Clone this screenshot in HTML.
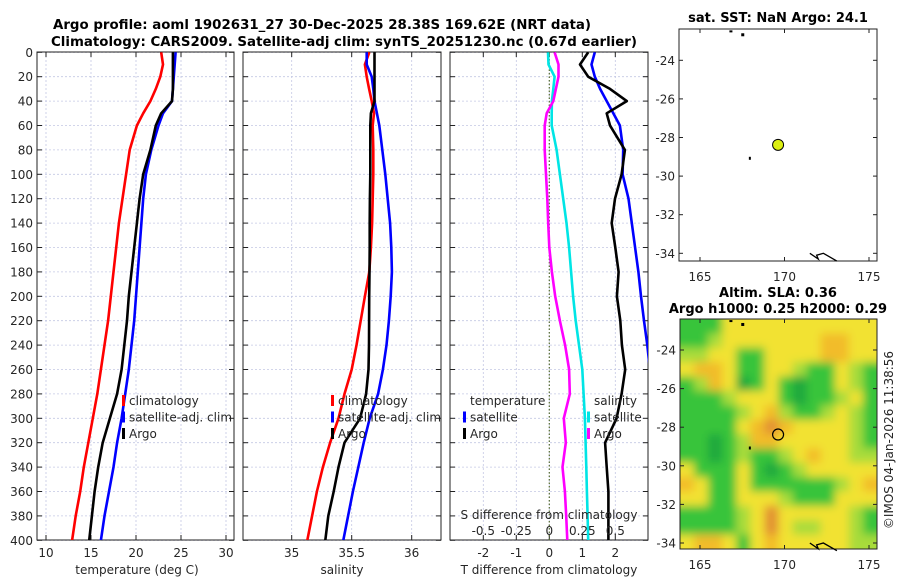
<!DOCTYPE html>
<html><head><meta charset="utf-8"><style>
html,body{margin:0;padding:0;background:#fff;}
svg{display:block;font-family:"DejaVu Sans","Liberation Sans",sans-serif;}
.t{font-size:12px;fill:#262626;}
.b{font-weight:bold;font-size:13px;fill:#000;}
</style></head><body>
<svg id="fig" width="900" height="580" viewBox="0 0 900 580" xmlns="http://www.w3.org/2000/svg">
<defs>
<clipPath id="c1"><rect x="37" y="52" width="197" height="488"/></clipPath>
<clipPath id="c2"><rect x="243" y="52" width="198" height="488"/></clipPath>
<clipPath id="c3"><rect x="450" y="52" width="198" height="488"/></clipPath>
<clipPath id="cm2"><rect x="680" y="319" width="197" height="230"/></clipPath>
<filter id="blur" x="0" y="0" width="1" height="1"><feGaussianBlur stdDeviation="4.5"/></filter>
</defs>
<text class="b" x="322" y="29" text-anchor="middle" textLength="538" lengthAdjust="spacingAndGlyphs">Argo profile: aoml 1902631_27 30-Dec-2025 28.38S 169.62E (NRT data)</text>
<text class="b" x="344" y="46" text-anchor="middle" textLength="586" lengthAdjust="spacingAndGlyphs">Climatology: CARS2009. Satellite-adj clim: synTS_20251230.nc (0.67d earlier)</text>
<g id="g1"></g>
<g id="g2"></g>
<g id="g3"></g>
<g id="gm1"></g>
<g id="gm2"></g>
<text class="t" transform="translate(893,440) rotate(-90)" text-anchor="middle">©IMOS 04-Jan-2026 11:38:56</text>
</svg>
<script>
// ---- data ----
const depths = [0,10,20,30,40,50,60,80,100,120,140,160,180,200,220,240,260,280,300,320,340,360,380,400];
const depthTicks = [0,20,40,60,80,100,120,140,160,180,200,220,240,260,280,300,320,340,360,380,400];
const tempClim = [22.8,23.0,22.7,22.2,21.6,20.8,20.1,19.3,18.9,18.5,18.1,17.8,17.5,17.2,16.9,16.5,16.1,15.7,15.2,14.7,14.2,13.8,13.3,12.9];
const tempSat  = [24.4,24.3,24.2,24.1,24.0,23.0,22.5,21.7,21.1,20.8,20.6,20.4,20.2,20.0,19.8,19.5,19.2,18.8,18.4,17.9,17.5,17.0,16.5,16.1];
const tempArgo = [24.1,24.1,24.1,24.1,24.0,22.8,22.2,21.6,20.8,20.4,20.1,19.8,19.5,19.2,19.0,18.7,18.4,17.9,17.1,16.3,15.8,15.4,15.1,14.8];
const salClim = [35.647,35.61,35.625,35.645,35.667,35.686,35.675,35.68,35.68,35.675,35.67,35.66,35.647,35.61,35.575,35.54,35.5,35.44,35.39,35.32,35.26,35.21,35.17,35.13];
const salSat  = [35.625,35.625,35.667,35.68,35.69,35.71,35.73,35.755,35.78,35.80,35.82,35.83,35.835,35.825,35.81,35.79,35.76,35.72,35.65,35.60,35.555,35.51,35.47,35.43];
const salArgo = [35.69,35.69,35.69,35.69,35.69,35.66,35.655,35.655,35.655,35.652,35.65,35.65,35.648,35.646,35.645,35.644,35.64,35.62,35.57,35.44,35.39,35.35,35.305,35.28];
const tDiffSat  = [1.38,1.28,1.38,1.54,1.74,1.94,2.14,2.24,2.22,2.4,2.5,2.6,2.7,2.78,2.87,2.97,3.05,3.1,3.2,3.2,3.3,3.2,3.2,3.2];
const tDiffArgo = [1.18,0.93,1.18,1.84,2.35,1.74,1.84,2.29,2.19,1.99,1.89,2.0,2.1,2.05,2.15,2.2,2.3,2.19,2.04,1.69,1.74,1.79,1.79,1.79];
const sDiffSat  = [-0.01,-0.006,0.04,0.03,0.02,0.018,0.018,0.055,0.08,0.105,0.13,0.15,0.165,0.18,0.2,0.225,0.25,0.26,0.27,0.275,0.28,0.285,0.29,0.295];
const sDiffArgo = [0.04,0.07,0.07,0.05,0.03,-0.02,-0.035,-0.035,-0.025,-0.015,-0.008,0.0,0.02,0.045,0.08,0.12,0.15,0.155,0.11,0.125,0.1,0.118,0.128,0.136];
const tempTicks = [10,15,20,25,30];
const salTicks = [35,35.5,36];
const salTickLabels = ["35","35.5","36"];
const tDiffTicks = [-2,-1,0,1,2];
const sDiffTicks = [-0.5,-0.25,0,0.25,0.5];
const sDiffTickLabels = ["-0.5","-0.25","0","0.25","0.5"];
const lonTicks = [165,170,175];
const latTicks = [-24,-26,-28,-30,-32,-34];
const argoLon = 169.62, argoLat = -28.38;
const slaGrid = [
[1,1,1,3,3,3,3,3,3,3,3,3,3,3],
[1,1,2,3,3,3,3,3,3,3,4,4,3,3],
[2,2,3,3,1,1,3,3,3,3,4,4,3,3],
[3,4,4,3,1,1,3,3,2,1,1,3,2,1],
[1,2,4,3,0,1,3,1,0,1,1,3,2,1],
[1,1,1,2,3,3,3,1,0,1,1,2,3,1],
[1,1,1,1,2,3,4,2,1,1,2,3,2,1],
[1,1,1,1,3,4,5,4,3,3,3,3,2,1],
[1,1,0,1,2,4,4,3,3,3,3,3,2,1],
[1,1,0,1,2,1,1,2,3,4,3,3,2,2],
[3,1,1,1,3,1,0,1,2,3,3,3,3,3],
[4,3,1,1,3,1,1,1,1,1,1,2,3,4],
[3,3,1,1,3,3,3,2,1,1,1,3,3,3],
[1,1,1,1,2,3,5,3,3,3,3,3,2,1],
[1,1,1,1,2,3,5,3,2,2,3,3,2,1],
[3,4,4,3,1,3,4,3,3,3,3,3,2,2]];
const slaColors = ["#1aa83c","#38c43a","#a8dc3a","#f2e232","#f2bc2c","#e29030"];

// ---- helpers ----
const NS="http://www.w3.org/2000/svg";
function mk(parent,tag,attrs,txt){const e=document.createElementNS(NS,tag);for(const k in attrs)e.setAttribute(k,attrs[k]);if(txt!==undefined)e.textContent=txt;parent.appendChild(e);return e;}
const yD = d => 52.3 + d*1.22;
const xT = v => 37 + (v-9)*9;
const xS = v => 351.7 + (v-35.5)*120;
const xTD = v => 549.3 + v*33;
const xSD = v => 549.3 + v*132;
const xLon = v => 700 + (v-165)*16.9;
const yLat1 = v => 60.3 + (-24 - v)*19.3;
const yLat2 = v => 350 + (-24 - v)*19.3;

function frame(g,x0,x1,y0,y1,xt,xf,yt,leftLabels){
  const gl=mk(g,'g',{});
  
  
  xt.forEach(v=>{mk(gl,'line',{x1:xf(v),x2:xf(v),y1:y0,y2:y1,stroke:'#c4c8e4','stroke-width':0.8,'stroke-dasharray':'2,2'});});
  yt.forEach(v=>{mk(gl,'line',{x1:x0,x2:x1,y1:yD(v),y2:yD(v),stroke:'#c4c8e4','stroke-width':0.8,'stroke-dasharray':'2,2'});});
  yt.forEach(v=>{mk(g,'line',{x1:x0,x2:x0+5,y1:yD(v),y2:yD(v),stroke:'#222'});mk(g,'line',{x1:x1-5,x2:x1,y1:yD(v),y2:yD(v),stroke:'#222'});});
  xt.forEach(v=>{mk(g,'line',{x1:xf(v),x2:xf(v),y1:y1-5,y2:y1,stroke:'#222'});mk(g,'line',{x1:xf(v),x2:xf(v),y1:y0,y2:y0+5,stroke:'#222'});});
  if(leftLabels){yt.forEach(v=>{const t=mk(g,'text',{class:'t',x:x0-4,y:yD(v)+4.5,'text-anchor':'end'},String(v));
    
    });}
  const r=mk(g,'rect',{x:x0,y:y0,width:x1-x0,height:y1-y0,fill:'none',stroke:'#222','stroke-width':1});
  
  
}
function line(g,vals,xf,color,clip,name){
  const pts=vals.map((v,i)=>xf(v).toFixed(1)+','+yD(depths[i]).toFixed(1)).join(' ');
  const p=mk(g,'polyline',{points:pts,fill:'none',stroke:color,'stroke-width':2.6,'stroke-linejoin':'round','clip-path':'url(#'+clip+')'});
  
  
}
function legend(g,x,y,items){
  items.forEach((it,i)=>{
    if(it[0]) mk(g,'rect',{x:x,y:y+i*16.5-10,width:3,height:11,fill:it[0]});
    const t=mk(g,'text',{class:'t',x:x+7,y:y+i*16.5,'font-size':'13px'},it[1]);
    
    
  });
}
function xlabels(g,ticks,labels,xf,y,name){
  ticks.forEach((v,i)=>{const t=mk(g,'text',{class:'t',x:xf(v),y:y,'text-anchor':'middle'},labels[i]);
    
    });
}

// Panel 1
const g1=document.getElementById('g1');
frame(g1,37,234,52,540,tempTicks,xT,depthTicks,true);
line(g1,tempClim,xT,'#ff0000','c1','temp-climatology-line');
line(g1,tempSat,xT,'#0000ff','c1','temp-satellite-line');
line(g1,tempArgo,xT,'#000000','c1','temp-argo-line');
legend(g1,122,405,[['#ff0000','climatology'],['#0000ff','satellite-adj. clim'],['#000','Argo']]);
xlabels(g1,tempTicks,tempTicks.map(String),xT,557,'temp-tick-label');
mk(g1,'text',{class:'t',x:137,y:574,'text-anchor':'middle','font-size':'13px'},'temperature (deg C)');

// Panel 2
const g2=document.getElementById('g2');
frame(g2,243,441,52,540,salTicks,xS,depthTicks,false);
line(g2,salClim,xS,'#ff0000','c2','sal-climatology-line');
line(g2,salSat,xS,'#0000ff','c2','sal-satellite-line');
line(g2,salArgo,xS,'#000000','c2','sal-argo-line');
legend(g2,331,405,[['#ff0000','climatology'],['#0000ff','satellite-adj. clim'],['#000','Argo']]);
xlabels(g2,salTicks,salTickLabels,xS,557,'sal-tick-label');
mk(g2,'text',{class:'t',x:342,y:574,'text-anchor':'middle','font-size':'13px'},'salinity');

// Panel 3
const g3=document.getElementById('g3');
frame(g3,450,648,52,540,tDiffTicks,xTD,depthTicks,false);
mk(g3,'line',{x1:xTD(0),x2:xTD(0),y1:52,y2:540,stroke:'#556b2f','stroke-width':1.2,'stroke-dasharray':'1.5,2'});
line(g3,sDiffSat,xSD,'#00e5e5','c3','sdiff-satellite-line');
line(g3,sDiffArgo,xSD,'#ff00ff','c3','sdiff-argo-line');
line(g3,tDiffSat,xTD,'#0000ff','c3','tdiff-satellite-line');
line(g3,tDiffArgo,xTD,'#000000','c3','tdiff-argo-line');
legend(g3,463,405,[[null,'temperature'],['#0000ff','satellite'],['#000','Argo']]);
legend(g3,587,405,[[null,'salinity'],['#00e5e5','satellite'],['#ff00ff','Argo']]);
mk(g3,'text',{class:'t',x:549,y:519,'text-anchor':'middle','font-size':'13px'},'S difference from climatology');
xlabels(g3,sDiffTicks,sDiffTickLabels,xSD,535,'sdiff-tick-label');
xlabels(g3,tDiffTicks,tDiffTicks.map(String),xTD,557,'tdiff-tick-label');
mk(g3,'text',{class:'t',x:549,y:574,'text-anchor':'middle','font-size':'13px'},'T difference from climatology');

// Maps
function mapFrame(g,x0,x1,y0,y1,yl,labelY){
  lonTicks.forEach(v=>{mk(g,'line',{x1:xLon(v),x2:xLon(v),y1:y0,y2:y0+4,stroke:'#222'});mk(g,'line',{x1:xLon(v),x2:xLon(v),y1:y1-4,y2:y1,stroke:'#222'});
    const t=mk(g,'text',{class:'t',x:xLon(v),y:labelY,'text-anchor':'middle'},String(v));
    
    });
  latTicks.forEach(v=>{mk(g,'line',{x1:x0,x2:x0+4,y1:yl(v),y2:yl(v),stroke:'#222'});mk(g,'line',{x1:x1-4,x2:x1,y1:yl(v),y2:yl(v),stroke:'#222'});
    const t=mk(g,'text',{class:'t',x:x0-4,y:yl(v)+4.5,'text-anchor':'end'},String(v));
    
    });
  mk(g,'rect',{x:x0,y:y0,width:x1-x0,height:y1-y0,fill:'none',stroke:'#222'});
}
function coast(g,yl){
  mk(g,'polyline',{points:[[171.5,-34.0],[172.0,-34.3],[171.9,-34.1],[172.3,-34.0],[173.1,-34.4]].map(p=>xLon(p[0])+','+yl(p[1])).join(' '),fill:'none',stroke:'#000','stroke-width':1.3});
  mk(g,'rect',{x:xLon(166.8)-1,y:yl(-22.45),width:3,height:2,fill:'#000'});
  mk(g,'rect',{x:xLon(167.5)-1,y:yl(-22.6),width:3,height:3,fill:'#000'});
  mk(g,'rect',{x:xLon(167.95)-1,y:yl(-29.0),width:2,height:3,fill:'#000'});
}
const gm1=document.getElementById('gm1');
mk(gm1,'text',{class:'b',x:778,y:22,'text-anchor':'middle'},'sat. SST: NaN Argo: 24.1');
mapFrame(gm1,679,877,29,261,yLat1,281);
coast(gm1,yLat1);
const dot=mk(gm1,'circle',{cx:xLon(argoLon),cy:yLat1(argoLat),r:5.5,fill:'#dcef10',stroke:'#000','stroke-width':1});



const gm2=document.getElementById('gm2');
mk(gm2,'text',{class:'b',x:778,y:297,'text-anchor':'middle'},'Altim. SLA: 0.36');
mk(gm2,'text',{class:'b',x:778,y:313,'text-anchor':'middle'},'Argo h1000: 0.25 h2000: 0.29');
const cells=mk(gm2,'g',{'clip-path':'url(#cm2)'});


const inner=mk(cells,'g',{filter:'url(#blur)'});
const nr=slaGrid.length,nc=slaGrid[0].length,cw=197/nc,ch=230/nr;
mk(inner,'rect',{x:660,y:300,width:240,height:270,fill:'#f2e232'});
slaGrid.forEach((row,r)=>row.forEach((v,c)=>{
  const x=680+c*cw-(c===0?20:0), y=319+r*ch-(r===0?20:0);
  const w=cw+0.6+(c===0||c===nc-1?20:0), h=ch+0.6+(r===0||r===nr-1?20:0);
  mk(inner,'rect',{x:x,y:y,width:w,height:h,fill:slaColors[v]});
}));
mapFrame(gm2,680,877,319,549,yLat2,569);
coast(gm2,yLat2);
const ring=mk(gm2,'circle',{cx:xLon(argoLon),cy:yLat2(argoLat),r:5.5,fill:'none',stroke:'#000','stroke-width':1.2});


</script>
</body></html>
